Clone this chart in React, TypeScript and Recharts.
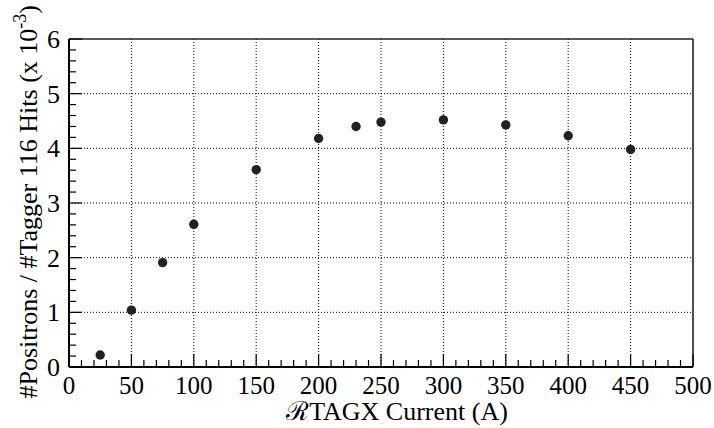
import {
  ScatterChart, Scatter, XAxis, YAxis, ReferenceLine,
} from 'recharts'

// ── Data ─────────────────────────────────────────────────────────────────────
const CURRENTS = [25, 50, 75, 100, 150, 200, 230, 250, 300, 350, 400, 450]
const RATIOS = [0.22, 1.04, 1.91, 2.61, 3.61, 4.18, 4.4, 4.48, 4.52, 4.43, 4.23, 3.98]

const X_TICKS = Array.from({ length: 51 }, (_, i) => i * 10)
const Y_TICKS = Array.from({ length: 31 }, (_, i) => Math.round(i * 2) / 10)
const X_GRID = [50, 100, 150, 200, 250, 300, 350, 400, 450]
const Y_GRID = [1, 2, 3, 4, 5]

const X_TITLE = 'ℛTAGX Current (A)'
const Y_TITLE = '#Positrons / #Tagger 116 Hits (x 10'

const points = CURRENTS.map((x, i) => ({ x, y: RATIOS[i] }))

// ── Styling ──────────────────────────────────────────────────────────────────
const TICK_FAMILY = 'Times New Roman'
const TITLE_FAMILY = 'Liberation Serif'
const TICK_FONT = 25
const X_GAP = 8
const Y_GAP = 9

const isMajorX = (v: number) => v % 50 === 0
const isMajorY = (v: number) => Math.abs(v - Math.round(v)) < 1e-6

// ── Ticks (ROOT style: drawn inward, minor + major) ──────────────────────────
// eslint-disable-next-line @typescript-eslint/no-explicit-any
function XTick(props: any) {
  const { x, y, payload } = props
  const v = payload.value
  const major = isMajorX(v)
  const axisY = y - X_GAP
  return (
    <g>
      <line x1={x} x2={x} y1={axisY} y2={axisY - (major ? 13 : 7)} stroke="#000" strokeWidth={1.2} />
      {major && (
        <text x={x} y={y} dy="0.75em" textAnchor="middle" fontSize={TICK_FONT} fontFamily={TICK_FAMILY} fill="#000">
          {v}
        </text>
      )}
    </g>
  )
}

// eslint-disable-next-line @typescript-eslint/no-explicit-any
function YTick(props: any) {
  const { x, y, payload } = props
  const v = payload.value
  const major = isMajorY(v)
  const axisX = x + Y_GAP
  return (
    <g>
      <line x1={axisX} x2={axisX + (major ? 13 : 7)} y1={y} y2={y} stroke="#000" strokeWidth={1.2} />
      {major && (
        <text x={x} y={y} dy="0.35em" textAnchor="end" fontSize={TICK_FONT + 1} fontFamily={TICK_FAMILY} fill="#000">
          {Math.round(v)}
        </text>
      )}
    </g>
  )
}

// ── Axis titles, drawn in an overlay svg on top of the chart ─────────────────
function Titles() {
  return (
    <svg width={714} height={428} style={{ position: 'absolute', left: 0, top: 0, pointerEvents: 'none' }}>
      <text
        x={37} y={5}
        transform="rotate(-90, 37, 5)"
        textAnchor="end"
        fontSize={26}
        fontFamily={TITLE_FAMILY}
        fill="#000"
      >
        {Y_TITLE}
        <tspan dy={-11} fontSize={18}>-3</tspan>
        <tspan dy={11}>)</tspan>
      </text>
      <text x={397} y={420} textAnchor="middle" fontSize={26} fontFamily={TITLE_FAMILY} fill="#000">
        {X_TITLE}
      </text>
    </svg>
  )
}

export default function App() {
  return (
    <div style={{ position: 'absolute', left: 0, top: 0, width: 714, height: 428, background: '#fff' }}>
      <ScatterChart width={714} height={428} margin={{ top: 38, right: 20, bottom: 60, left: 68 }}>
        {X_GRID.map((v) => (
          <ReferenceLine key={`gx${v}`} x={v} stroke="#000" strokeDasharray="1 2" strokeWidth={1} />
        ))}
        {Y_GRID.map((v) => (
          <ReferenceLine key={`gy${v}`} y={v} stroke="#000" strokeDasharray="1 2" strokeWidth={1} />
        ))}
        <XAxis
          dataKey="x"
          type="number"
          domain={[0, 500]}
          ticks={X_TICKS}
          interval={0}
          height={1}
          tickSize={0}
          tickMargin={X_GAP}
          tick={<XTick />}
          axisLine={{ stroke: '#000', strokeWidth: 2 }}
        />
        <XAxis xAxisId="top" orientation="top" type="number" domain={[0, 500]} height={1} tick={false} tickLine={false}
          axisLine={{ stroke: '#222', strokeWidth: 1.6 }} />
        <YAxis
          dataKey="y"
          type="number"
          domain={[0, 6]}
          ticks={Y_TICKS}
          interval={0}
          width={1}
          tickSize={0}
          tickMargin={Y_GAP}
          tick={<YTick />}
          axisLine={{ stroke: '#000', strokeWidth: 2 }}
        />
        <YAxis yAxisId="right" orientation="right" type="number" domain={[0, 6]} width={1} tick={false} tickLine={false}
          axisLine={{ stroke: '#222', strokeWidth: 1.6 }} />
        <Scatter
          data={points}
          isAnimationActive={false}
          shape={(p: any) => <circle cx={p.cx} cy={p.cy} r={4.7} fill="#222" />}
        />
      </ScatterChart>
      <Titles />
    </div>
  )
}
